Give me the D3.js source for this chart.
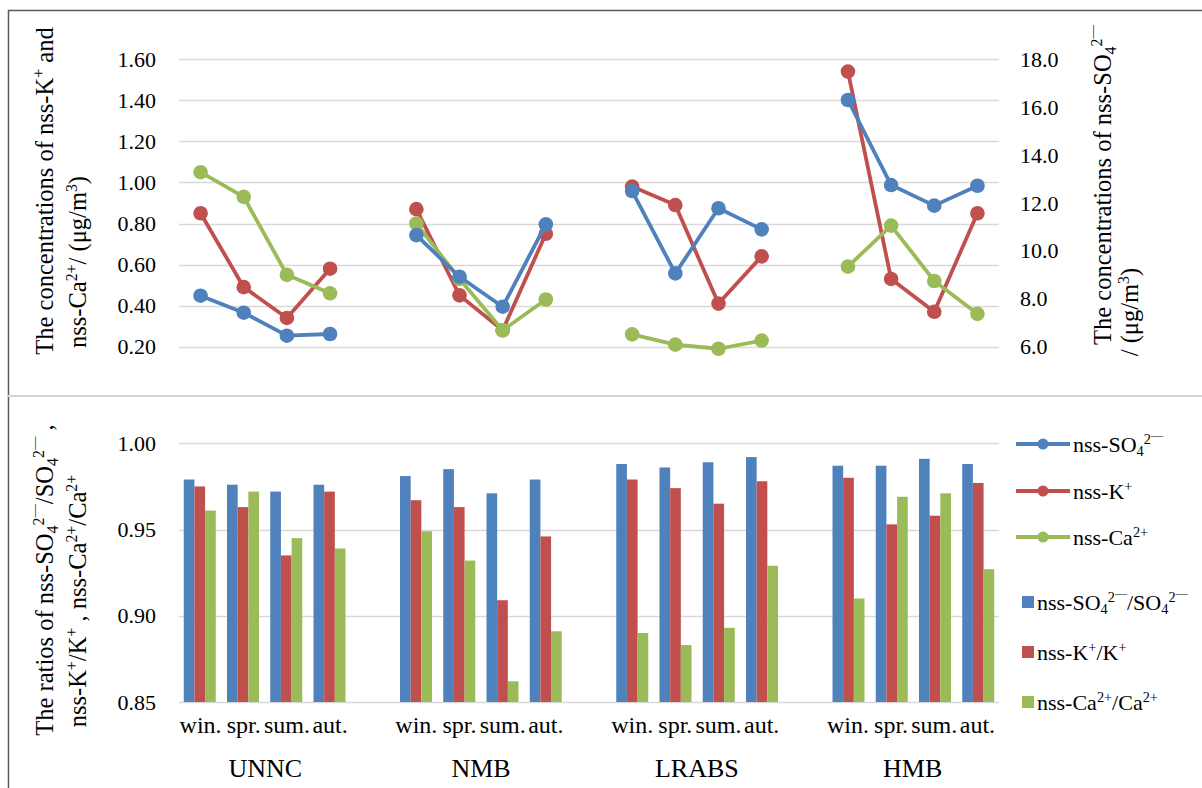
<!DOCTYPE html>
<html>
<head>
<meta charset="utf-8">
<script src="https://cdn.jsdelivr.net/npm/d3@7/dist/d3.min.js"></script>
<style>
html,body{margin:0;padding:0;background:#fff;}
svg{display:block;}
svg text{font-family:"Liberation Serif","Times New Roman",Times,"DejaVu Serif","Noto Serif",serif;}
</style>
</head>
<body>
<svg id="chart" width="1202" height="788"></svg>
<script>
// ---------- DATA ----------
const sites = ["UNNC", "NMB", "LRABS", "HMB"];
const seasons = ["win.", "spr.", "sum.", "aut."];
// concentrations (top panel)
const so4Conc = [8.13, 7.42, 6.46, 6.53, 10.66, 8.92, 7.67, 11.11, 12.5, 9.06, 11.78, 10.9, 16.3, 12.75, 11.89, 12.72];
const kConc   = [0.85, 0.49, 0.34, 0.58, 0.87, 0.45, 0.28, 0.75, 0.98, 0.89, 0.41, 0.64, 1.54, 0.53, 0.37, 0.85];
const caConc  = [1.05, 0.93, 0.55, 0.46, 0.80, 0.53, 0.28, 0.43, 0.26, 0.21, 0.19, 0.23, 0.59, 0.79, 0.52, 0.36];
// ratios (bottom panel)
const so4Ratio = [0.979, 0.976, 0.972, 0.976, 0.981, 0.985, 0.971, 0.979, 0.988, 0.986, 0.989, 0.992, 0.987, 0.987, 0.991, 0.988];
const kRatio   = [0.975, 0.963, 0.935, 0.972, 0.967, 0.963, 0.909, 0.946, 0.979, 0.974, 0.965, 0.978, 0.980, 0.953, 0.958, 0.977];
const caRatio  = [0.961, 0.972, 0.945, 0.939, 0.949, 0.932, 0.862, 0.891, 0.890, 0.883, 0.893, 0.929, 0.910, 0.969, 0.971, 0.927];
// tick labels
const leftTicks = [0.2, 0.4, 0.6, 0.8, 1.0, 1.2, 1.4, 1.6];
const rightTicks = [6, 8, 10, 12, 14, 16, 18];
const ratioTicks = [0.85, 0.90, 0.95, 1.00];

const COL = {so4: "#4F81BD", k: "#C0504D", ca: "#9BBB59"};
const FONT_TICK = 22, FONT_X = 24, FONT_GROUP = 26, FONT_TITLE = 24.5, FONT_LEG = 22;

const svg = d3.select("#chart");

// ---------- helpers ----------
function rich(sel, segs, fs) {
  let off = 0;
  segs.forEach(s => {
    const [t, type] = Array.isArray(s) ? s : [s, "n"];
    const target = type === "sup" ? -0.38 * fs : type === "sub" ? 0.2 * fs : type === "dash" ? -0.6 * fs : 0;
    const ts = sel.append("tspan").text(t).attr("dy", target - off);
    if (type === "dash") ts.attr("font-size", fs * 0.55);
    else if (type !== "n") ts.attr("font-size", fs * 0.65);
    off = target;
  });
}
const SO4 = ["nss-SO", ["4", "sub"], ["2", "sup"], ["\u2014", "dash"]];

// ---------- scales ----------
const slotIndex = (i) => Math.floor(i / 4) * 5 + (i % 4);   // 4 groups with one empty slot between
const x = d3.scaleBand().domain(d3.range(19)).range([179, 999]).paddingInner(0).paddingOuter(0);
const xc = (i) => x(slotIndex(i)) + x.bandwidth() / 2;
const xBar = d3.scaleBand().domain(d3.range(19)).range([179, 999]).paddingInner(0.26).paddingOuter(0.11);
const xSub = d3.scaleBand().domain([0, 1, 2]).range([0, xBar.bandwidth()]);

const yL = d3.scaleLinear().domain([0.2, 1.6]).range([346.7, 59.3]);
const yR = d3.scaleLinear().domain([6, 18]).range([346.7, 59.3]);
const yB = d3.scaleLinear().domain([0.85, 1.0]).range([702, 443.3]);

// ---------- frame ----------
svg.append("line").attr("x1", 8).attr("x2", 1202).attr("y1", 10.5).attr("y2", 10.5).attr("stroke", "#595959").attr("stroke-width", 1.5);
svg.append("line").attr("x1", 8.5).attr("x2", 8.5).attr("y1", 10).attr("y2", 788).attr("stroke", "#595959").attr("stroke-width", 1.5);
svg.append("line").attr("x1", 8).attr("x2", 1202).attr("y1", 396).attr("y2", 396).attr("stroke", "#d4d4d4").attr("stroke-width", 2);

// ---------- gridlines ----------
svg.append("g").selectAll("line").data(leftTicks).join("line")
  .attr("x1", 179).attr("x2", 999).attr("y1", d => Math.round(yL(d)) + 0.5).attr("y2", d => Math.round(yL(d)) + 0.5)
  .attr("stroke", "#d9d9d9").attr("stroke-width", 1.3);
svg.append("g").selectAll("line").data(ratioTicks).join("line")
  .attr("x1", 179).attr("x2", 999).attr("y1", d => Math.round(yB(d)) + 0.5).attr("y2", d => Math.round(yB(d)) + 0.5)
  .attr("stroke", "#d9d9d9").attr("stroke-width", 1.3);

// ---------- axes ----------
function styleAxis(g) {
  g.attr("font-family", null);
  g.select(".domain").remove();
  g.selectAll("text").attr("fill", "#000");
}
svg.append("g").attr("transform", "translate(179,0)")
  .call(d3.axisLeft(yL).tickValues(leftTicks).tickFormat(d3.format(".2f")).tickSize(0).tickPadding(23))
  .call(styleAxis).selectAll("text").attr("font-size", FONT_TICK);
svg.append("g").attr("transform", "translate(999,0)")
  .call(d3.axisRight(yR).tickValues(rightTicks).tickFormat(d3.format(".1f")).tickSize(0).tickPadding(21))
  .call(styleAxis).selectAll("text").attr("font-size", FONT_TICK);
svg.append("g").attr("transform", "translate(179,0)")
  .call(d3.axisLeft(yB).tickValues(ratioTicks).tickFormat(d3.format(".2f")).tickSize(0).tickPadding(23))
  .call(styleAxis).selectAll("text").attr("font-size", FONT_TICK);

// season labels
const seasonIdx = d3.range(16).map(slotIndex);
svg.append("g").attr("transform", "translate(0,702)")
  .call(d3.axisBottom(x).tickValues(seasonIdx).tickFormat(s => seasons[s % 5]).tickSize(0).tickPadding(14))
  .call(styleAxis).selectAll("text").attr("font-size", FONT_X);
// site labels
svg.append("g").selectAll("text").data(sites).join("text")
  .attr("x", (d, g) => (xc(g * 4) + xc(g * 4 + 3)) / 2).attr("y", 777)
  .attr("text-anchor", "middle").attr("font-size", FONT_GROUP).attr("fill", "#000").text(d => d);

// ---------- bars ----------
const barSeries = [
  {vals: so4Ratio, col: COL.so4},
  {vals: kRatio, col: COL.k},
  {vals: caRatio, col: COL.ca}
];
barSeries.forEach((s, si) => {
  svg.append("g").selectAll("rect").data(s.vals).join("rect")
    .attr("x", (d, i) => xBar(slotIndex(i)) + xSub(si))
    .attr("width", xSub.bandwidth())
    .attr("y", d => yB(d)).attr("height", d => yB(0.85) - yB(d))
    .attr("fill", s.col);
});

// ---------- lines ----------
const lineSeries = [
  {vals: kConc, y: yL, col: COL.k},
  {vals: caConc, y: yL, col: COL.ca},
  {vals: so4Conc, y: yR, col: COL.so4}
];
lineSeries.forEach(s => {
  const g = svg.append("g");
  const line = d3.line().x(d => xc(d.i)).y(d => s.y(d.v));
  sites.forEach((site, gi) => {
    const pts = d3.range(4).map(j => ({i: gi * 4 + j, v: s.vals[gi * 4 + j]}));
    g.append("path").attr("d", line(pts)).attr("fill", "none").attr("stroke", s.col)
      .attr("stroke-width", 3.8).attr("stroke-linejoin", "round").attr("stroke-linecap", "round");
  });
  g.selectAll("circle").data(s.vals).join("circle")
    .attr("cx", (d, i) => xc(i)).attr("cy", d => s.y(d)).attr("r", 7.3).attr("fill", s.col);
});

// ---------- axis titles ----------
function vTitle(cx, cy, segs) {
  const t = svg.append("text").attr("transform", `translate(${cx},${cy}) rotate(-90)`)
    .attr("text-anchor", "middle").attr("font-size", FONT_TITLE).attr("fill", "#000");
  rich(t, segs, FONT_TITLE);
}
vTitle(53, 191, ["The concentrations of nss-K", ["+", "sup"], " and"]);
vTitle(86, 262, ["nss-Ca", ["2+", "sup"], "/ (\u03BCg/m", ["3", "sup"], ")"]);
vTitle(1111, 185, ["The concentrations of ", ...SO4]);
vTitle(1138, 312, ["/ (\u03BCg/m", ["3", "sup"], ")"]);
vTitle(53, 580, ["The ratios of ", ...SO4, "/SO", ["4", "sub"], ["2", "sup"], ["\u2014", "dash"], " ,"]);
vTitle(86, 601, ["nss-K", ["+", "sup"], "/K", ["+", "sup"], " , nss-Ca", ["2+", "sup"], "/Ca", ["2+", "sup"]]);

// ---------- legend ----------
const legLines = [
  {col: COL.so4, segs: SO4, y: 444},
  {col: COL.k, segs: ["nss-K", ["+", "sup"]], y: 491},
  {col: COL.ca, segs: ["nss-Ca", ["2+", "sup"]], y: 537}
];
legLines.forEach(l => {
  svg.append("line").attr("x1", 1016).attr("x2", 1070).attr("y1", l.y).attr("y2", l.y)
    .attr("stroke", l.col).attr("stroke-width", 3.8);
  svg.append("circle").attr("cx", 1043).attr("cy", l.y).attr("r", 5.5).attr("fill", l.col);
  const t = svg.append("text").attr("x", 1073).attr("y", l.y + 8).attr("font-size", FONT_LEG).attr("fill", "#000");
  rich(t, l.segs, FONT_LEG);
});
const legBars = [
  {col: COL.so4, segs: [...SO4, "/SO", ["4", "sub"], ["2", "sup"], ["\u2014", "dash"]], y: 602},
  {col: COL.k, segs: ["nss-K", ["+", "sup"], "/K", ["+", "sup"]], y: 652},
  {col: COL.ca, segs: ["nss-Ca", ["2+", "sup"], "/Ca", ["2+", "sup"]], y: 702}
];
legBars.forEach(l => {
  svg.append("rect").attr("x", 1022).attr("y", l.y - 6).attr("width", 12).attr("height", 12).attr("fill", l.col);
  const t = svg.append("text").attr("x", 1037).attr("y", l.y + 8).attr("font-size", FONT_LEG).attr("fill", "#000");
  rich(t, l.segs, FONT_LEG);
});
</script>
</body>
</html>
